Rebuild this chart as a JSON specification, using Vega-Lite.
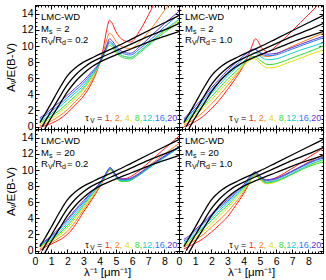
{
"$schema":"https://vega.github.io/schema/vega-lite/v6.json",
"padding":{"left":4,"top":0,"right":2,"bottom":0},
"background":"white",
"config":{
 "view":{"stroke":"black","strokeWidth":1},
 "font":"Liberation Sans",
 "axis":{"domainColor":"black","tickColor":"black","labelColor":"black","titleColor":"black","labelFont":"Liberation Sans","titleFont":"Liberation Sans","labelFontSize":10.5,"titleFontSize":11.5,"titleFontWeight":"normal","grid":false,"labelFlush":false,"labelOverlap":false,"tickWidth":1,"domainWidth":1},
 "text":{"font":"Liberation Sans","fontSize":9.5,"align":"left","baseline":"alphabetic","color":"black"}
},
"datasets":{
"black":[
{"k":"a","x":0.3,"y":0.5},{"k":"a","x":0.6,"y":1.5},{"k":"a","x":1,"y":2.9},{"k":"a","x":1.5,"y":4.7},{"k":"a","x":2,"y":6.3},{"k":"a","x":2.5,"y":7.3},{"k":"a","x":3,"y":8},{"k":"a","x":3.5,"y":8.5},{"k":"a","x":4,"y":9},{"k":"a","x":5,"y":9.9},{"k":"a","x":6,"y":10.9},{"k":"a","x":7,"y":11.9},{"k":"a","x":8,"y":12.9},{"k":"a","x":8.9,"y":13.8},
{"k":"b","x":0.45,"y":0},{"k":"b","x":0.7,"y":0.9},{"k":"b","x":1,"y":1.9},{"k":"b","x":1.5,"y":3.6},{"k":"b","x":2,"y":5.2},{"k":"b","x":2.5,"y":6.4},{"k":"b","x":3,"y":7.3},{"k":"b","x":3.5,"y":8},{"k":"b","x":4,"y":8.5},{"k":"b","x":5,"y":9.4},{"k":"b","x":6,"y":10.3},{"k":"b","x":7,"y":11.2},{"k":"b","x":8,"y":12},{"k":"b","x":8.9,"y":12.8},
{"k":"c","x":0.6,"y":-0.3},{"k":"c","x":0.8,"y":0.4},{"k":"c","x":1,"y":1.1},{"k":"c","x":1.5,"y":2.7},{"k":"c","x":2,"y":4.3},{"k":"c","x":2.5,"y":5.6},{"k":"c","x":3,"y":6.6},{"k":"c","x":3.5,"y":7.4},{"k":"c","x":4,"y":8},{"k":"c","x":5,"y":8.9},{"k":"c","x":6,"y":9.7},{"k":"c","x":7,"y":10.5},{"k":"c","x":8,"y":11.2},{"k":"c","x":8.9,"y":11.8}
],
"TL":[
{"t":1,"x":0.3,"y":-0.1},{"t":1,"x":0.6,"y":0.1},{"t":1,"x":1,"y":0.4},{"t":1,"x":1.5,"y":0.9},{"t":1,"x":2,"y":1.7},{"t":1,"x":2.5,"y":2.7},{"t":1,"x":3,"y":3.8},{"t":1,"x":3.5,"y":5.4},{"t":1,"x":3.9,"y":7.3},{"t":1,"x":4.2,"y":9.5},{"t":1,"x":4.45,"y":12.2},{"t":1,"x":4.6,"y":13.2},{"t":1,"x":4.75,"y":12.9},{"t":1,"x":5,"y":11.8},{"t":1,"x":5.4,"y":10.8},{"t":1,"x":5.9,"y":10.5},{"t":1,"x":6.5,"y":12},{"t":1,"x":7.2,"y":14.6},{"t":1,"x":8,"y":17.5},{"t":1,"x":8.9,"y":20.5},
{"t":2,"x":0.3,"y":0.1},{"t":2,"x":0.6,"y":0.3},{"t":2,"x":1,"y":0.7},{"t":2,"x":1.5,"y":1.3},{"t":2,"x":2,"y":2.1},{"t":2,"x":2.5,"y":3.1},{"t":2,"x":3,"y":4.2},{"t":2,"x":3.5,"y":5.7},{"t":2,"x":3.9,"y":7.4},{"t":2,"x":4.2,"y":9.1},{"t":2,"x":4.45,"y":10.9},{"t":2,"x":4.6,"y":11.6},{"t":2,"x":4.75,"y":11.4},{"t":2,"x":5,"y":10.6},{"t":2,"x":5.4,"y":9.9},{"t":2,"x":5.9,"y":9.7},{"t":2,"x":6.5,"y":10.6},{"t":2,"x":7.2,"y":12.2},{"t":2,"x":8,"y":14.4},{"t":2,"x":8.9,"y":16.8},
{"t":4,"x":0.3,"y":0.3},{"t":4,"x":0.6,"y":0.6},{"t":4,"x":1,"y":1},{"t":4,"x":1.5,"y":1.7},{"t":4,"x":2,"y":2.6},{"t":4,"x":2.5,"y":3.5},{"t":4,"x":3,"y":4.6},{"t":4,"x":3.5,"y":6},{"t":4,"x":3.9,"y":7.4},{"t":4,"x":4.2,"y":8.7},{"t":4,"x":4.45,"y":9.9},{"t":4,"x":4.6,"y":10.4},{"t":4,"x":4.75,"y":10.2},{"t":4,"x":5,"y":9.4},{"t":4,"x":5.4,"y":8.8},{"t":4,"x":5.9,"y":8.6},{"t":4,"x":6.5,"y":9.4},{"t":4,"x":7.2,"y":10.6},{"t":4,"x":8,"y":11.9},{"t":4,"x":8.9,"y":13.1},
{"t":8,"x":0.3,"y":0.5},{"t":8,"x":0.6,"y":0.8},{"t":8,"x":1,"y":1.3},{"t":8,"x":1.5,"y":2},{"t":8,"x":2,"y":2.9},{"t":8,"x":2.5,"y":3.8},{"t":8,"x":3,"y":4.8},{"t":8,"x":3.5,"y":6.2},{"t":8,"x":3.9,"y":7.4},{"t":8,"x":4.2,"y":8.6},{"t":8,"x":4.45,"y":9.7},{"t":8,"x":4.6,"y":10.1},{"t":8,"x":4.75,"y":9.9},{"t":8,"x":5,"y":9.2},{"t":8,"x":5.4,"y":8.6},{"t":8,"x":5.9,"y":8.4},{"t":8,"x":6.5,"y":9.2},{"t":8,"x":7.2,"y":10.4},{"t":8,"x":8,"y":11.7},{"t":8,"x":8.9,"y":12.9},
{"t":12,"x":0.3,"y":0.7},{"t":12,"x":0.6,"y":1},{"t":12,"x":1,"y":1.6},{"t":12,"x":1.5,"y":2.4},{"t":12,"x":2,"y":3.3},{"t":12,"x":2.5,"y":4.2},{"t":12,"x":3,"y":5.1},{"t":12,"x":3.5,"y":6.4},{"t":12,"x":3.9,"y":7.5},{"t":12,"x":4.2,"y":8.7},{"t":12,"x":4.45,"y":9.9},{"t":12,"x":4.6,"y":10.4},{"t":12,"x":4.75,"y":10.2},{"t":12,"x":5,"y":9.5},{"t":12,"x":5.4,"y":8.8},{"t":12,"x":5.9,"y":8.6},{"t":12,"x":6.5,"y":9.4},{"t":12,"x":7.2,"y":10.6},{"t":12,"x":8,"y":12},{"t":12,"x":8.9,"y":13.3},
{"t":16,"x":0.3,"y":0.9},{"t":16,"x":0.6,"y":1.3},{"t":16,"x":1,"y":1.9},{"t":16,"x":1.5,"y":2.7},{"t":16,"x":2,"y":3.6},{"t":16,"x":2.5,"y":4.5},{"t":16,"x":3,"y":5.4},{"t":16,"x":3.5,"y":6.6},{"t":16,"x":3.9,"y":7.6},{"t":16,"x":4.2,"y":8.8},{"t":16,"x":4.45,"y":10},{"t":16,"x":4.6,"y":10.6},{"t":16,"x":4.75,"y":10.4},{"t":16,"x":5,"y":9.7},{"t":16,"x":5.4,"y":9.1},{"t":16,"x":5.9,"y":8.9},{"t":16,"x":6.5,"y":9.7},{"t":16,"x":7.2,"y":10.9},{"t":16,"x":8,"y":12.4},{"t":16,"x":8.9,"y":13.9},
{"t":20,"x":0.3,"y":1.1},{"t":20,"x":0.6,"y":1.5},{"t":20,"x":1,"y":2.2},{"t":20,"x":1.5,"y":3},{"t":20,"x":2,"y":3.9},{"t":20,"x":2.5,"y":4.8},{"t":20,"x":3,"y":5.7},{"t":20,"x":3.5,"y":6.8},{"t":20,"x":3.9,"y":7.7},{"t":20,"x":4.2,"y":8.9},{"t":20,"x":4.45,"y":10.2},{"t":20,"x":4.6,"y":10.9},{"t":20,"x":4.75,"y":10.7},{"t":20,"x":5,"y":10},{"t":20,"x":5.4,"y":9.3},{"t":20,"x":5.9,"y":9.1},{"t":20,"x":6.5,"y":10},{"t":20,"x":7.2,"y":11.3},{"t":20,"x":8,"y":12.8},{"t":20,"x":8.9,"y":14.3}
],
"TR":[
{"t":1,"x":0.3,"y":0},{"t":1,"x":0.6,"y":0.2},{"t":1,"x":1,"y":0.6},{"t":1,"x":1.5,"y":1.3},{"t":1,"x":2,"y":2.2},{"t":1,"x":2.5,"y":3.3},{"t":1,"x":3,"y":4.6},{"t":1,"x":3.5,"y":6},{"t":1,"x":4,"y":7.6},{"t":1,"x":4.3,"y":8.9},{"t":1,"x":4.55,"y":10.2},{"t":1,"x":4.7,"y":10.9},{"t":1,"x":4.85,"y":10.7},{"t":1,"x":5.1,"y":9.8},{"t":1,"x":5.5,"y":9.3},{"t":1,"x":6,"y":10},{"t":1,"x":6.7,"y":11.3},{"t":1,"x":7.5,"y":12.9},{"t":1,"x":8.3,"y":14.5},{"t":1,"x":8.9,"y":15.8},
{"t":2,"x":0.3,"y":0.2},{"t":2,"x":0.6,"y":0.5},{"t":2,"x":1,"y":1},{"t":2,"x":1.5,"y":1.8},{"t":2,"x":2,"y":2.8},{"t":2,"x":2.5,"y":3.9},{"t":2,"x":3,"y":5.1},{"t":2,"x":3.5,"y":6.3},{"t":2,"x":4,"y":7.6},{"t":2,"x":4.3,"y":8.4},{"t":2,"x":4.55,"y":9},{"t":2,"x":4.7,"y":9.2},{"t":2,"x":4.85,"y":9.1},{"t":2,"x":5.1,"y":8.8},{"t":2,"x":5.5,"y":8.7},{"t":2,"x":6,"y":9},{"t":2,"x":6.7,"y":9.7},{"t":2,"x":7.5,"y":10.4},{"t":2,"x":8.3,"y":11.1},{"t":2,"x":8.9,"y":11.6},
{"t":4,"x":0.3,"y":0.4},{"t":4,"x":0.6,"y":0.8},{"t":4,"x":1,"y":1.4},{"t":4,"x":1.5,"y":2.3},{"t":4,"x":2,"y":3.3},{"t":4,"x":2.5,"y":4.4},{"t":4,"x":3,"y":5.5},{"t":4,"x":3.5,"y":6.5},{"t":4,"x":4,"y":7.6},{"t":4,"x":4.3,"y":8.1},{"t":4,"x":4.55,"y":8.4},{"t":4,"x":4.7,"y":8.4},{"t":4,"x":4.85,"y":8.2},{"t":4,"x":5.1,"y":7.7},{"t":4,"x":5.5,"y":7.3},{"t":4,"x":6,"y":7.4},{"t":4,"x":6.7,"y":7.9},{"t":4,"x":7.5,"y":8.5},{"t":4,"x":8.3,"y":9.1},{"t":4,"x":8.9,"y":9.5},
{"t":8,"x":0.3,"y":0.5},{"t":8,"x":0.6,"y":1},{"t":8,"x":1,"y":1.7},{"t":8,"x":1.5,"y":2.6},{"t":8,"x":2,"y":3.7},{"t":8,"x":2.5,"y":4.8},{"t":8,"x":3,"y":5.9},{"t":8,"x":3.5,"y":6.8},{"t":8,"x":4,"y":7.8},{"t":8,"x":4.3,"y":8.3},{"t":8,"x":4.55,"y":8.7},{"t":8,"x":4.7,"y":8.7},{"t":8,"x":4.85,"y":8.5},{"t":8,"x":5.1,"y":8.1},{"t":8,"x":5.5,"y":7.7},{"t":8,"x":6,"y":7.8},{"t":8,"x":6.7,"y":8.3},{"t":8,"x":7.5,"y":8.9},{"t":8,"x":8.3,"y":9.5},{"t":8,"x":8.9,"y":10},
{"t":12,"x":0.3,"y":0.7},{"t":12,"x":0.6,"y":1.2},{"t":12,"x":1,"y":2},{"t":12,"x":1.5,"y":3},{"t":12,"x":2,"y":4.1},{"t":12,"x":2.5,"y":5.2},{"t":12,"x":3,"y":6.3},{"t":12,"x":3.5,"y":7.2},{"t":12,"x":4,"y":8.1},{"t":12,"x":4.3,"y":8.7},{"t":12,"x":4.55,"y":9.1},{"t":12,"x":4.7,"y":9.2},{"t":12,"x":4.85,"y":9},{"t":12,"x":5.1,"y":8.6},{"t":12,"x":5.5,"y":8.3},{"t":12,"x":6,"y":8.4},{"t":12,"x":6.7,"y":8.9},{"t":12,"x":7.5,"y":9.5},{"t":12,"x":8.3,"y":10},{"t":12,"x":8.9,"y":10.4},
{"t":16,"x":0.3,"y":0.8},{"t":16,"x":0.6,"y":1.4},{"t":16,"x":1,"y":2.2},{"t":16,"x":1.5,"y":3.3},{"t":16,"x":2,"y":4.5},{"t":16,"x":2.5,"y":5.6},{"t":16,"x":3,"y":6.7},{"t":16,"x":3.5,"y":7.6},{"t":16,"x":4,"y":8.5},{"t":16,"x":4.3,"y":9.1},{"t":16,"x":4.55,"y":9.5},{"t":16,"x":4.7,"y":9.6},{"t":16,"x":4.85,"y":9.4},{"t":16,"x":5.1,"y":9},{"t":16,"x":5.5,"y":8.8},{"t":16,"x":6,"y":8.9},{"t":16,"x":6.7,"y":9.4},{"t":16,"x":7.5,"y":10},{"t":16,"x":8.3,"y":10.6},{"t":16,"x":8.9,"y":11},
{"t":20,"x":0.3,"y":0.95},{"t":20,"x":0.6,"y":1.6},{"t":20,"x":1,"y":2.5},{"t":20,"x":1.5,"y":3.6},{"t":20,"x":2,"y":4.8},{"t":20,"x":2.5,"y":5.9},{"t":20,"x":3,"y":7},{"t":20,"x":3.5,"y":7.9},{"t":20,"x":4,"y":8.8},{"t":20,"x":4.3,"y":9.3},{"t":20,"x":4.55,"y":9.6},{"t":20,"x":4.7,"y":9.6},{"t":20,"x":4.85,"y":9.4},{"t":20,"x":5.1,"y":9.1},{"t":20,"x":5.5,"y":9},{"t":20,"x":6,"y":9.1},{"t":20,"x":6.7,"y":9.6},{"t":20,"x":7.5,"y":10.2},{"t":20,"x":8.3,"y":10.8},{"t":20,"x":8.9,"y":11.2}
],
"BL":[
{"t":1,"x":0.3,"y":0},{"t":1,"x":0.6,"y":0.4},{"t":1,"x":1,"y":0.8},{"t":1,"x":1.5,"y":1.3},{"t":1,"x":2,"y":2},{"t":1,"x":2.5,"y":3.2},{"t":1,"x":3,"y":4.8},{"t":1,"x":3.5,"y":6.3},{"t":1,"x":4,"y":7.9},{"t":1,"x":4.3,"y":9},{"t":1,"x":4.5,"y":9.8},{"t":1,"x":4.65,"y":10.1},{"t":1,"x":4.8,"y":9.8},{"t":1,"x":5,"y":9.3},{"t":1,"x":5.3,"y":8.9},{"t":1,"x":5.7,"y":9},{"t":1,"x":6.3,"y":9.7},{"t":1,"x":7,"y":10.9},{"t":1,"x":7.8,"y":12.3},{"t":1,"x":8.9,"y":14.2},
{"t":2,"x":0.3,"y":0.2},{"t":2,"x":0.6,"y":0.6},{"t":2,"x":1,"y":1},{"t":2,"x":1.5,"y":1.6},{"t":2,"x":2,"y":2.4},{"t":2,"x":2.5,"y":3.6},{"t":2,"x":3,"y":5.1},{"t":2,"x":3.5,"y":6.5},{"t":2,"x":4,"y":8},{"t":2,"x":4.3,"y":9},{"t":2,"x":4.5,"y":9.8},{"t":2,"x":4.65,"y":10.1},{"t":2,"x":4.8,"y":9.8},{"t":2,"x":5,"y":9.2},{"t":2,"x":5.3,"y":8.8},{"t":2,"x":5.7,"y":8.8},{"t":2,"x":6.3,"y":9.4},{"t":2,"x":7,"y":10.5},{"t":2,"x":7.8,"y":11.7},{"t":2,"x":8.9,"y":13.3},
{"t":4,"x":0.3,"y":0.4},{"t":4,"x":0.6,"y":0.8},{"t":4,"x":1,"y":1.2},{"t":4,"x":1.5,"y":1.9},{"t":4,"x":2,"y":2.8},{"t":4,"x":2.5,"y":4},{"t":4,"x":3,"y":5.4},{"t":4,"x":3.5,"y":6.7},{"t":4,"x":4,"y":8.1},{"t":4,"x":4.3,"y":9},{"t":4,"x":4.5,"y":9.7},{"t":4,"x":4.65,"y":10},{"t":4,"x":4.8,"y":9.7},{"t":4,"x":5,"y":9.1},{"t":4,"x":5.3,"y":8.6},{"t":4,"x":5.7,"y":8.6},{"t":4,"x":6.3,"y":9.2},{"t":4,"x":7,"y":10.2},{"t":4,"x":7.8,"y":11.4},{"t":4,"x":8.9,"y":12.9},
{"t":8,"x":0.3,"y":0.5},{"t":8,"x":0.6,"y":0.9},{"t":8,"x":1,"y":1.3},{"t":8,"x":1.5,"y":2.1},{"t":8,"x":2,"y":3.1},{"t":8,"x":2.5,"y":4.3},{"t":8,"x":3,"y":5.6},{"t":8,"x":3.5,"y":6.9},{"t":8,"x":4,"y":8.2},{"t":8,"x":4.3,"y":9.1},{"t":8,"x":4.5,"y":9.8},{"t":8,"x":4.65,"y":10.1},{"t":8,"x":4.8,"y":9.8},{"t":8,"x":5,"y":9.1},{"t":8,"x":5.3,"y":8.6},{"t":8,"x":5.7,"y":8.6},{"t":8,"x":6.3,"y":9.2},{"t":8,"x":7,"y":10.2},{"t":8,"x":7.8,"y":11.3},{"t":8,"x":8.9,"y":12.8},
{"t":12,"x":0.3,"y":0.6},{"t":12,"x":0.6,"y":1},{"t":12,"x":1,"y":1.5},{"t":12,"x":1.5,"y":2.3},{"t":12,"x":2,"y":3.4},{"t":12,"x":2.5,"y":4.6},{"t":12,"x":3,"y":5.8},{"t":12,"x":3.5,"y":7},{"t":12,"x":4,"y":8.2},{"t":12,"x":4.3,"y":9.1},{"t":12,"x":4.5,"y":9.9},{"t":12,"x":4.65,"y":10.2},{"t":12,"x":4.8,"y":9.9},{"t":12,"x":5,"y":9.2},{"t":12,"x":5.3,"y":8.7},{"t":12,"x":5.7,"y":8.7},{"t":12,"x":6.3,"y":9.2},{"t":12,"x":7,"y":10.2},{"t":12,"x":7.8,"y":11.3},{"t":12,"x":8.9,"y":12.8},
{"t":16,"x":0.3,"y":0.7},{"t":16,"x":0.6,"y":1.1},{"t":16,"x":1,"y":1.7},{"t":16,"x":1.5,"y":2.6},{"t":16,"x":2,"y":3.7},{"t":16,"x":2.5,"y":4.9},{"t":16,"x":3,"y":6},{"t":16,"x":3.5,"y":7.2},{"t":16,"x":4,"y":8.3},{"t":16,"x":4.3,"y":9.2},{"t":16,"x":4.5,"y":10},{"t":16,"x":4.65,"y":10.3},{"t":16,"x":4.8,"y":10},{"t":16,"x":5,"y":9.3},{"t":16,"x":5.3,"y":8.8},{"t":16,"x":5.7,"y":8.8},{"t":16,"x":6.3,"y":9.3},{"t":16,"x":7,"y":10.3},{"t":16,"x":7.8,"y":11.4},{"t":16,"x":8.9,"y":12.8},
{"t":20,"x":0.3,"y":0.8},{"t":20,"x":0.6,"y":1.2},{"t":20,"x":1,"y":1.8},{"t":20,"x":1.5,"y":2.8},{"t":20,"x":2,"y":3.9},{"t":20,"x":2.5,"y":5.1},{"t":20,"x":3,"y":6.2},{"t":20,"x":3.5,"y":7.3},{"t":20,"x":4,"y":8.4},{"t":20,"x":4.3,"y":9.3},{"t":20,"x":4.5,"y":10},{"t":20,"x":4.65,"y":10.3},{"t":20,"x":4.8,"y":10},{"t":20,"x":5,"y":9.4},{"t":20,"x":5.3,"y":8.9},{"t":20,"x":5.7,"y":8.9},{"t":20,"x":6.3,"y":9.4},{"t":20,"x":7,"y":10.4},{"t":20,"x":7.8,"y":11.5},{"t":20,"x":8.9,"y":12.9}
],
"BR":[
{"t":1,"x":0.3,"y":0.2},{"t":1,"x":0.6,"y":0.5},{"t":1,"x":1,"y":0.9},{"t":1,"x":1.5,"y":1.5},{"t":1,"x":2,"y":2.3},{"t":1,"x":2.5,"y":3.2},{"t":1,"x":3,"y":4.2},{"t":1,"x":3.5,"y":5.6},{"t":1,"x":4,"y":7.1},{"t":1,"x":4.3,"y":8.2},{"t":1,"x":4.55,"y":9.2},{"t":1,"x":4.7,"y":9.6},{"t":1,"x":4.85,"y":9.4},{"t":1,"x":5.1,"y":8.9},{"t":1,"x":5.4,"y":8.7},{"t":1,"x":5.8,"y":8.9},{"t":1,"x":6.5,"y":9.6},{"t":1,"x":7.3,"y":10.6},{"t":1,"x":8.1,"y":11.7},{"t":1,"x":8.9,"y":12.7},
{"t":2,"x":0.3,"y":0.4},{"t":2,"x":0.6,"y":0.8},{"t":2,"x":1,"y":1.3},{"t":2,"x":1.5,"y":2},{"t":2,"x":2,"y":2.9},{"t":2,"x":2.5,"y":3.8},{"t":2,"x":3,"y":4.8},{"t":2,"x":3.5,"y":6},{"t":2,"x":4,"y":7.3},{"t":2,"x":4.3,"y":8.3},{"t":2,"x":4.55,"y":9.1},{"t":2,"x":4.7,"y":9.4},{"t":2,"x":4.85,"y":9.2},{"t":2,"x":5.1,"y":8.8},{"t":2,"x":5.4,"y":8.5},{"t":2,"x":5.8,"y":8.7},{"t":2,"x":6.5,"y":9.3},{"t":2,"x":7.3,"y":10.2},{"t":2,"x":8.1,"y":11.1},{"t":2,"x":8.9,"y":11.9},
{"t":4,"x":0.3,"y":0.6},{"t":4,"x":0.6,"y":1},{"t":4,"x":1,"y":1.6},{"t":4,"x":1.5,"y":2.4},{"t":4,"x":2,"y":3.3},{"t":4,"x":2.5,"y":4.3},{"t":4,"x":3,"y":5.3},{"t":4,"x":3.5,"y":6.4},{"t":4,"x":4,"y":7.5},{"t":4,"x":4.3,"y":8.3},{"t":4,"x":4.55,"y":9},{"t":4,"x":4.7,"y":9.3},{"t":4,"x":4.85,"y":9.1},{"t":4,"x":5.1,"y":8.6},{"t":4,"x":5.4,"y":8.3},{"t":4,"x":5.8,"y":8.4},{"t":4,"x":6.5,"y":9},{"t":4,"x":7.3,"y":9.8},{"t":4,"x":8.1,"y":10.6},{"t":4,"x":8.9,"y":11.2},
{"t":8,"x":0.3,"y":0.8},{"t":8,"x":0.6,"y":1.2},{"t":8,"x":1,"y":1.9},{"t":8,"x":1.5,"y":2.8},{"t":8,"x":2,"y":3.7},{"t":8,"x":2.5,"y":4.7},{"t":8,"x":3,"y":5.6},{"t":8,"x":3.5,"y":6.7},{"t":8,"x":4,"y":7.7},{"t":8,"x":4.3,"y":8.5},{"t":8,"x":4.55,"y":9.2},{"t":8,"x":4.7,"y":9.4},{"t":8,"x":4.85,"y":9.2},{"t":8,"x":5.1,"y":8.7},{"t":8,"x":5.4,"y":8.4},{"t":8,"x":5.8,"y":8.5},{"t":8,"x":6.5,"y":9},{"t":8,"x":7.3,"y":9.8},{"t":8,"x":8.1,"y":10.5},{"t":8,"x":8.9,"y":11},
{"t":12,"x":0.3,"y":1},{"t":12,"x":0.6,"y":1.4},{"t":12,"x":1,"y":2.1},{"t":12,"x":1.5,"y":3},{"t":12,"x":2,"y":4},{"t":12,"x":2.5,"y":5},{"t":12,"x":3,"y":5.9},{"t":12,"x":3.5,"y":6.9},{"t":12,"x":4,"y":7.9},{"t":12,"x":4.3,"y":8.7},{"t":12,"x":4.55,"y":9.4},{"t":12,"x":4.7,"y":9.6},{"t":12,"x":4.85,"y":9.4},{"t":12,"x":5.1,"y":8.9},{"t":12,"x":5.4,"y":8.5},{"t":12,"x":5.8,"y":8.6},{"t":12,"x":6.5,"y":9.1},{"t":12,"x":7.3,"y":9.9},{"t":12,"x":8.1,"y":10.7},{"t":12,"x":8.9,"y":11.3},
{"t":16,"x":0.3,"y":1.2},{"t":16,"x":0.6,"y":1.6},{"t":16,"x":1,"y":2.4},{"t":16,"x":1.5,"y":3.3},{"t":16,"x":2,"y":4.3},{"t":16,"x":2.5,"y":5.3},{"t":16,"x":3,"y":6.1},{"t":16,"x":3.5,"y":7.1},{"t":16,"x":4,"y":8},{"t":16,"x":4.3,"y":8.8},{"t":16,"x":4.55,"y":9.5},{"t":16,"x":4.7,"y":9.7},{"t":16,"x":4.85,"y":9.5},{"t":16,"x":5.1,"y":9},{"t":16,"x":5.4,"y":8.7},{"t":16,"x":5.8,"y":8.8},{"t":16,"x":6.5,"y":9.3},{"t":16,"x":7.3,"y":10.1},{"t":16,"x":8.1,"y":10.9},{"t":16,"x":8.9,"y":11.5},
{"t":20,"x":0.3,"y":1.4},{"t":20,"x":0.6,"y":1.8},{"t":20,"x":1,"y":2.6},{"t":20,"x":1.5,"y":3.5},{"t":20,"x":2,"y":4.5},{"t":20,"x":2.5,"y":5.5},{"t":20,"x":3,"y":6.3},{"t":20,"x":3.5,"y":7.3},{"t":20,"x":4,"y":8.2},{"t":20,"x":4.3,"y":9},{"t":20,"x":4.55,"y":9.6},{"t":20,"x":4.7,"y":9.8},{"t":20,"x":4.85,"y":9.6},{"t":20,"x":5.1,"y":9.1},{"t":20,"x":5.4,"y":8.8},{"t":20,"x":5.8,"y":8.9},{"t":20,"x":6.5,"y":9.4},{"t":20,"x":7.3,"y":10.2},{"t":20,"x":8.1,"y":11},{"t":20,"x":8.9,"y":11.6}
]
},
"spacing":0,
"bounds":"flush",
"columns":2,
"concat":[
 {"width":144,"height":124,"resolve":{"axis":{"x":"independent","y":"independent"}},
  "layer":[
   {"data":{"name":"TL"},"mark":{"type":"line","clip":true,"strokeWidth":1,"interpolate":"monotone"},
    "encoding":{"x":{"field":"x","type":"quantitative","scale":{"domain":[0,8.9],"nice":false,"zero":false},"axis":{"orient":"bottom","values":[0,0.2,0.4,0.6,0.8,1,1.2,1.4,1.6,1.8,2,2.2,2.4,2.6,2.8,3,3.2,3.4,3.6,3.8,4,4.2,4.4,4.6,4.8,5,5.2,5.4,5.6,5.8,6,6.2,6.4,6.6,6.8,7,7.2,7.4,7.6,7.8,8,8.2,8.4,8.6,8.8],"tickSize":{"condition":{"test":"datum.value % 1 === 0","value":-4},"value":-2},"labels":false,"title":null}},
     "y":{"field":"y","type":"quantitative","scale":{"domain":[-0.3,15.1],"nice":false,"zero":false},"axis":{"orient":"left","values":[0,0.5,1,1.5,2,2.5,3,3.5,4,4.5,5,5.5,6,6.5,7,7.5,8,8.5,9,9.5,10,10.5,11,11.5,12,12.5,13,13.5,14,14.5,15],"tickSize":{"condition":{"test":"datum.value % 2 === 0","value":-4},"value":-2},"labelExpr":"datum.value % 2 === 0 ? format(datum.value,'d') : ''","labelPadding":6,"title":"Aᵥ/E(B-V)","titlePadding":5}},
     "color":{"field":"t","type":"ordinal","scale":{"domain":[1,2,4,8,12,16,20],"range":["#ff2020","#ff8020","#e0e000","#30e030","#10d0d0","#2080ff","#6030e0"]},"legend":null}}},
   {"data":{"name":"black"},"mark":{"type":"line","clip":true,"strokeWidth":1.3,"color":"black","interpolate":"monotone"},
    "encoding":{"x":{"field":"x","type":"quantitative","scale":{"domain":[0,8.9],"nice":false,"zero":false},"axis":{"orient":"top","values":[0,0.2,0.4,0.6,0.8,1,1.2,1.4,1.6,1.8,2,2.2,2.4,2.6,2.8,3,3.2,3.4,3.6,3.8,4,4.2,4.4,4.6,4.8,5,5.2,5.4,5.6,5.8,6,6.2,6.4,6.6,6.8,7,7.2,7.4,7.6,7.8,8,8.2,8.4,8.6,8.8],"tickSize":{"condition":{"test":"datum.value % 1 === 0","value":-4},"value":-2},"labels":false,"title":null}},
     "y":{"field":"y","type":"quantitative","scale":{"domain":[-0.3,15.1],"nice":false,"zero":false},"axis":{"orient":"right","values":[0,0.5,1,1.5,2,2.5,3,3.5,4,4.5,5,5.5,6,6.5,7,7.5,8,8.5,9,9.5,10,10.5,11,11.5,12,12.5,13,13.5,14,14.5,15],"tickSize":{"condition":{"test":"datum.value % 2 === 0","value":-4},"value":-2},"labels":false,"title":null}},
     "detail":{"field":"k","type":"nominal"}}},
   {"data":{"values":[{}]},
    "encoding":{"x":{"datum":0.37,"type":"quantitative","scale":{"domain":[0,8.9],"nice":false,"zero":false},"axis":null}},
    "layer":[
     {"mark":{"type":"text","text":"LMC-WD"},"encoding":{"y":{"datum":13.2,"type":"quantitative","scale":{"domain":[-0.3,15.1],"nice":false,"zero":false},"axis":null}}},
     {"encoding":{"y":{"datum":11.8,"type":"quantitative","scale":{"domain":[-0.3,15.1],"nice":false,"zero":false},"axis":null}},"layer":[
       {"mark":{"type":"text","text":"M"}},
       {"mark":{"type":"text","text":"s","dx":8,"dy":2.5,"fontSize":7}},
       {"mark":{"type":"text","text":"=  2","dx":15}}]},
     {"encoding":{"y":{"datum":10.4,"type":"quantitative","scale":{"domain":[-0.3,15.1],"nice":false,"zero":false},"axis":null}},"layer":[
       {"mark":{"type":"text","text":"R"}},
       {"mark":{"type":"text","text":"V","dx":7,"dy":2.5,"fontSize":7}},
       {"mark":{"type":"text","text":"/R","dx":11.5}},
       {"mark":{"type":"text","text":"d","dx":21,"dy":2.5,"fontSize":7}},
       {"mark":{"type":"text","text":"= 0.2","dx":26}}]}
    ]},
   {"data":{"values":[{}]},
    "encoding":{"x":{"datum":3.1,"type":"quantitative","scale":{"domain":[0,8.9],"nice":false,"zero":false},"axis":null},"y":{"datum":0.75,"type":"quantitative","scale":{"domain":[-0.3,15.1],"nice":false,"zero":false},"axis":null}},
    "layer":[
     {"mark":{"type":"text","text":"τ","fontSize":9}},
     {"mark":{"type":"text","text":"V","fontSize":6.5,"dx":5,"dy":2}},
     {"mark":{"type":"text","text":"=","fontSize":9,"dx":11.8}},
     {"mark":{"type":"text","text":"1,","fontSize":9,"dx":19.6,"color":"#ff2020"}},
     {"mark":{"type":"text","text":"2,","fontSize":9,"dx":29.6,"color":"#ff8020"}},
     {"mark":{"type":"text","text":"4,","fontSize":9,"dx":39.6,"color":"#e0e000"}},
     {"mark":{"type":"text","text":"8,","fontSize":9,"dx":49.6,"color":"#30e030"}},
     {"mark":{"type":"text","text":"12,","fontSize":9,"dx":57.1,"color":"#10d0d0"}},
     {"mark":{"type":"text","text":"16,","fontSize":9,"dx":69.6,"color":"#2080ff"}},
     {"mark":{"type":"text","text":"20","fontSize":9,"dx":82.1,"color":"#6030e0"}}
    ]}
  ]},
 {"width":144,"height":124,"resolve":{"axis":{"x":"independent","y":"independent"}},
  "layer":[
   {"data":{"name":"TR"},"mark":{"type":"line","clip":true,"strokeWidth":1,"interpolate":"monotone"},
    "encoding":{"x":{"field":"x","type":"quantitative","scale":{"domain":[0,8.9],"nice":false,"zero":false},"axis":{"orient":"bottom","values":[0,0.2,0.4,0.6,0.8,1,1.2,1.4,1.6,1.8,2,2.2,2.4,2.6,2.8,3,3.2,3.4,3.6,3.8,4,4.2,4.4,4.6,4.8,5,5.2,5.4,5.6,5.8,6,6.2,6.4,6.6,6.8,7,7.2,7.4,7.6,7.8,8,8.2,8.4,8.6,8.8],"tickSize":{"condition":{"test":"datum.value % 1 === 0","value":-4},"value":-2},"labels":false,"title":null}},
     "y":{"field":"y","type":"quantitative","scale":{"domain":[-0.3,15.1],"nice":false,"zero":false},"axis":{"orient":"left","values":[0,0.5,1,1.5,2,2.5,3,3.5,4,4.5,5,5.5,6,6.5,7,7.5,8,8.5,9,9.5,10,10.5,11,11.5,12,12.5,13,13.5,14,14.5,15],"tickSize":{"condition":{"test":"datum.value % 2 === 0","value":-4},"value":-2},"labels":false,"title":null}},
     "color":{"field":"t","type":"ordinal","scale":{"domain":[1,2,4,8,12,16,20],"range":["#ff2020","#ff8020","#e0e000","#30e030","#10d0d0","#2080ff","#6030e0"]},"legend":null}}},
   {"data":{"name":"black"},"mark":{"type":"line","clip":true,"strokeWidth":1.3,"color":"black","interpolate":"monotone"},
    "encoding":{"x":{"field":"x","type":"quantitative","scale":{"domain":[0,8.9],"nice":false,"zero":false},"axis":{"orient":"top","values":[0,0.2,0.4,0.6,0.8,1,1.2,1.4,1.6,1.8,2,2.2,2.4,2.6,2.8,3,3.2,3.4,3.6,3.8,4,4.2,4.4,4.6,4.8,5,5.2,5.4,5.6,5.8,6,6.2,6.4,6.6,6.8,7,7.2,7.4,7.6,7.8,8,8.2,8.4,8.6,8.8],"tickSize":{"condition":{"test":"datum.value % 1 === 0","value":-4},"value":-2},"labels":false,"title":null}},
     "y":{"field":"y","type":"quantitative","scale":{"domain":[-0.3,15.1],"nice":false,"zero":false},"axis":{"orient":"right","values":[0,0.5,1,1.5,2,2.5,3,3.5,4,4.5,5,5.5,6,6.5,7,7.5,8,8.5,9,9.5,10,10.5,11,11.5,12,12.5,13,13.5,14,14.5,15],"tickSize":{"condition":{"test":"datum.value % 2 === 0","value":-4},"value":-2},"labels":false,"title":null}},
     "detail":{"field":"k","type":"nominal"}}},
   {"data":{"values":[{}]},
    "encoding":{"x":{"datum":0.37,"type":"quantitative","scale":{"domain":[0,8.9],"nice":false,"zero":false},"axis":null}},
    "layer":[
     {"mark":{"type":"text","text":"LMC-WD"},"encoding":{"y":{"datum":13.2,"type":"quantitative","scale":{"domain":[-0.3,15.1],"nice":false,"zero":false},"axis":null}}},
     {"encoding":{"y":{"datum":11.8,"type":"quantitative","scale":{"domain":[-0.3,15.1],"nice":false,"zero":false},"axis":null}},"layer":[
       {"mark":{"type":"text","text":"M"}},
       {"mark":{"type":"text","text":"s","dx":8,"dy":2.5,"fontSize":7}},
       {"mark":{"type":"text","text":"=  2","dx":15}}]},
     {"encoding":{"y":{"datum":10.4,"type":"quantitative","scale":{"domain":[-0.3,15.1],"nice":false,"zero":false},"axis":null}},"layer":[
       {"mark":{"type":"text","text":"R"}},
       {"mark":{"type":"text","text":"V","dx":7,"dy":2.5,"fontSize":7}},
       {"mark":{"type":"text","text":"/R","dx":11.5}},
       {"mark":{"type":"text","text":"d","dx":21,"dy":2.5,"fontSize":7}},
       {"mark":{"type":"text","text":"= 1.0","dx":26}}]}
    ]},
   {"data":{"values":[{}]},
    "encoding":{"x":{"datum":3.1,"type":"quantitative","scale":{"domain":[0,8.9],"nice":false,"zero":false},"axis":null},"y":{"datum":0.75,"type":"quantitative","scale":{"domain":[-0.3,15.1],"nice":false,"zero":false},"axis":null}},
    "layer":[
     {"mark":{"type":"text","text":"τ","fontSize":9}},
     {"mark":{"type":"text","text":"V","fontSize":6.5,"dx":5,"dy":2}},
     {"mark":{"type":"text","text":"=","fontSize":9,"dx":11.8}},
     {"mark":{"type":"text","text":"1,","fontSize":9,"dx":19.6,"color":"#ff2020"}},
     {"mark":{"type":"text","text":"2,","fontSize":9,"dx":29.6,"color":"#ff8020"}},
     {"mark":{"type":"text","text":"4,","fontSize":9,"dx":39.6,"color":"#e0e000"}},
     {"mark":{"type":"text","text":"8,","fontSize":9,"dx":49.6,"color":"#30e030"}},
     {"mark":{"type":"text","text":"12,","fontSize":9,"dx":57.1,"color":"#10d0d0"}},
     {"mark":{"type":"text","text":"16,","fontSize":9,"dx":69.6,"color":"#2080ff"}},
     {"mark":{"type":"text","text":"20","fontSize":9,"dx":82.1,"color":"#6030e0"}}
    ]}
  ]},
 {"width":144,"height":124,"resolve":{"axis":{"x":"independent","y":"independent"}},
  "layer":[
   {"data":{"name":"BL"},"mark":{"type":"line","clip":true,"strokeWidth":1,"interpolate":"monotone"},
    "encoding":{"x":{"field":"x","type":"quantitative","scale":{"domain":[0,8.9],"nice":false,"zero":false},"axis":{"orient":"bottom","values":[0,0.2,0.4,0.6,0.8,1,1.2,1.4,1.6,1.8,2,2.2,2.4,2.6,2.8,3,3.2,3.4,3.6,3.8,4,4.2,4.4,4.6,4.8,5,5.2,5.4,5.6,5.8,6,6.2,6.4,6.6,6.8,7,7.2,7.4,7.6,7.8,8,8.2,8.4,8.6,8.8],"tickSize":{"condition":{"test":"datum.value % 1 === 0","value":-4},"value":-2},"labelExpr":"datum.value % 1 === 0 ? format(datum.value,'d') : ''","labelPadding":7,"title":"λ⁻¹ [μm⁻¹]","titlePadding":-2}},
     "y":{"field":"y","type":"quantitative","scale":{"domain":[-0.3,15.1],"nice":false,"zero":false},"axis":{"orient":"left","values":[0,0.5,1,1.5,2,2.5,3,3.5,4,4.5,5,5.5,6,6.5,7,7.5,8,8.5,9,9.5,10,10.5,11,11.5,12,12.5,13,13.5,14,14.5,15],"tickSize":{"condition":{"test":"datum.value % 2 === 0","value":-4},"value":-2},"labelExpr":"datum.value % 2 === 0 ? format(datum.value,'d') : ''","labelPadding":6,"title":"Aᵥ/E(B-V)","titlePadding":5}},
     "color":{"field":"t","type":"ordinal","scale":{"domain":[1,2,4,8,12,16,20],"range":["#ff2020","#ff8020","#e0e000","#30e030","#10d0d0","#2080ff","#6030e0"]},"legend":null}}},
   {"data":{"name":"black"},"mark":{"type":"line","clip":true,"strokeWidth":1.3,"color":"black","interpolate":"monotone"},
    "encoding":{"x":{"field":"x","type":"quantitative","scale":{"domain":[0,8.9],"nice":false,"zero":false},"axis":{"orient":"top","values":[0,0.2,0.4,0.6,0.8,1,1.2,1.4,1.6,1.8,2,2.2,2.4,2.6,2.8,3,3.2,3.4,3.6,3.8,4,4.2,4.4,4.6,4.8,5,5.2,5.4,5.6,5.8,6,6.2,6.4,6.6,6.8,7,7.2,7.4,7.6,7.8,8,8.2,8.4,8.6,8.8],"tickSize":{"condition":{"test":"datum.value % 1 === 0","value":-4},"value":-2},"labels":false,"title":null}},
     "y":{"field":"y","type":"quantitative","scale":{"domain":[-0.3,15.1],"nice":false,"zero":false},"axis":{"orient":"right","values":[0,0.5,1,1.5,2,2.5,3,3.5,4,4.5,5,5.5,6,6.5,7,7.5,8,8.5,9,9.5,10,10.5,11,11.5,12,12.5,13,13.5,14,14.5,15],"tickSize":{"condition":{"test":"datum.value % 2 === 0","value":-4},"value":-2},"labels":false,"title":null}},
     "detail":{"field":"k","type":"nominal"}}},
   {"data":{"values":[{}]},
    "encoding":{"x":{"datum":0.37,"type":"quantitative","scale":{"domain":[0,8.9],"nice":false,"zero":false},"axis":null}},
    "layer":[
     {"mark":{"type":"text","text":"LMC-WD"},"encoding":{"y":{"datum":13.2,"type":"quantitative","scale":{"domain":[-0.3,15.1],"nice":false,"zero":false},"axis":null}}},
     {"encoding":{"y":{"datum":11.8,"type":"quantitative","scale":{"domain":[-0.3,15.1],"nice":false,"zero":false},"axis":null}},"layer":[
       {"mark":{"type":"text","text":"M"}},
       {"mark":{"type":"text","text":"s","dx":8,"dy":2.5,"fontSize":7}},
       {"mark":{"type":"text","text":"= 20","dx":15}}]},
     {"encoding":{"y":{"datum":10.4,"type":"quantitative","scale":{"domain":[-0.3,15.1],"nice":false,"zero":false},"axis":null}},"layer":[
       {"mark":{"type":"text","text":"R"}},
       {"mark":{"type":"text","text":"V","dx":7,"dy":2.5,"fontSize":7}},
       {"mark":{"type":"text","text":"/R","dx":11.5}},
       {"mark":{"type":"text","text":"d","dx":21,"dy":2.5,"fontSize":7}},
       {"mark":{"type":"text","text":"= 0.2","dx":26}}]}
    ]},
   {"data":{"values":[{}]},
    "encoding":{"x":{"datum":3.1,"type":"quantitative","scale":{"domain":[0,8.9],"nice":false,"zero":false},"axis":null},"y":{"datum":0.3,"type":"quantitative","scale":{"domain":[-0.3,15.1],"nice":false,"zero":false},"axis":null}},
    "layer":[
     {"mark":{"type":"text","text":"τ","fontSize":9}},
     {"mark":{"type":"text","text":"V","fontSize":6.5,"dx":5,"dy":2}},
     {"mark":{"type":"text","text":"=","fontSize":9,"dx":11.8}},
     {"mark":{"type":"text","text":"1,","fontSize":9,"dx":19.6,"color":"#ff2020"}},
     {"mark":{"type":"text","text":"2,","fontSize":9,"dx":29.6,"color":"#ff8020"}},
     {"mark":{"type":"text","text":"4,","fontSize":9,"dx":39.6,"color":"#e0e000"}},
     {"mark":{"type":"text","text":"8,","fontSize":9,"dx":49.6,"color":"#30e030"}},
     {"mark":{"type":"text","text":"12,","fontSize":9,"dx":57.1,"color":"#10d0d0"}},
     {"mark":{"type":"text","text":"16,","fontSize":9,"dx":69.6,"color":"#2080ff"}},
     {"mark":{"type":"text","text":"20","fontSize":9,"dx":82.1,"color":"#6030e0"}}
    ]}
  ]},
 {"width":144,"height":124,"resolve":{"axis":{"x":"independent","y":"independent"}},
  "layer":[
   {"data":{"name":"BR"},"mark":{"type":"line","clip":true,"strokeWidth":1,"interpolate":"monotone"},
    "encoding":{"x":{"field":"x","type":"quantitative","scale":{"domain":[0,8.9],"nice":false,"zero":false},"axis":{"orient":"bottom","values":[0,0.2,0.4,0.6,0.8,1,1.2,1.4,1.6,1.8,2,2.2,2.4,2.6,2.8,3,3.2,3.4,3.6,3.8,4,4.2,4.4,4.6,4.8,5,5.2,5.4,5.6,5.8,6,6.2,6.4,6.6,6.8,7,7.2,7.4,7.6,7.8,8,8.2,8.4,8.6,8.8],"tickSize":{"condition":{"test":"datum.value % 1 === 0","value":-4},"value":-2},"labelExpr":"datum.value % 1 === 0 ? format(datum.value,'d') : ''","labelPadding":7,"title":"λ⁻¹ [μm⁻¹]","titlePadding":-2}},
     "y":{"field":"y","type":"quantitative","scale":{"domain":[-0.3,15.1],"nice":false,"zero":false},"axis":{"orient":"left","values":[0,0.5,1,1.5,2,2.5,3,3.5,4,4.5,5,5.5,6,6.5,7,7.5,8,8.5,9,9.5,10,10.5,11,11.5,12,12.5,13,13.5,14,14.5,15],"tickSize":{"condition":{"test":"datum.value % 2 === 0","value":-4},"value":-2},"labels":false,"title":null}},
     "color":{"field":"t","type":"ordinal","scale":{"domain":[1,2,4,8,12,16,20],"range":["#ff2020","#ff8020","#e0e000","#30e030","#10d0d0","#2080ff","#6030e0"]},"legend":null}}},
   {"data":{"name":"black"},"mark":{"type":"line","clip":true,"strokeWidth":1.3,"color":"black","interpolate":"monotone"},
    "encoding":{"x":{"field":"x","type":"quantitative","scale":{"domain":[0,8.9],"nice":false,"zero":false},"axis":{"orient":"top","values":[0,0.2,0.4,0.6,0.8,1,1.2,1.4,1.6,1.8,2,2.2,2.4,2.6,2.8,3,3.2,3.4,3.6,3.8,4,4.2,4.4,4.6,4.8,5,5.2,5.4,5.6,5.8,6,6.2,6.4,6.6,6.8,7,7.2,7.4,7.6,7.8,8,8.2,8.4,8.6,8.8],"tickSize":{"condition":{"test":"datum.value % 1 === 0","value":-4},"value":-2},"labels":false,"title":null}},
     "y":{"field":"y","type":"quantitative","scale":{"domain":[-0.3,15.1],"nice":false,"zero":false},"axis":{"orient":"right","values":[0,0.5,1,1.5,2,2.5,3,3.5,4,4.5,5,5.5,6,6.5,7,7.5,8,8.5,9,9.5,10,10.5,11,11.5,12,12.5,13,13.5,14,14.5,15],"tickSize":{"condition":{"test":"datum.value % 2 === 0","value":-4},"value":-2},"labels":false,"title":null}},
     "detail":{"field":"k","type":"nominal"}}},
   {"data":{"values":[{}]},
    "encoding":{"x":{"datum":0.37,"type":"quantitative","scale":{"domain":[0,8.9],"nice":false,"zero":false},"axis":null}},
    "layer":[
     {"mark":{"type":"text","text":"LMC-WD"},"encoding":{"y":{"datum":13.2,"type":"quantitative","scale":{"domain":[-0.3,15.1],"nice":false,"zero":false},"axis":null}}},
     {"encoding":{"y":{"datum":11.8,"type":"quantitative","scale":{"domain":[-0.3,15.1],"nice":false,"zero":false},"axis":null}},"layer":[
       {"mark":{"type":"text","text":"M"}},
       {"mark":{"type":"text","text":"s","dx":8,"dy":2.5,"fontSize":7}},
       {"mark":{"type":"text","text":"= 20","dx":15}}]},
     {"encoding":{"y":{"datum":10.4,"type":"quantitative","scale":{"domain":[-0.3,15.1],"nice":false,"zero":false},"axis":null}},"layer":[
       {"mark":{"type":"text","text":"R"}},
       {"mark":{"type":"text","text":"V","dx":7,"dy":2.5,"fontSize":7}},
       {"mark":{"type":"text","text":"/R","dx":11.5}},
       {"mark":{"type":"text","text":"d","dx":21,"dy":2.5,"fontSize":7}},
       {"mark":{"type":"text","text":"= 1.0","dx":26}}]}
    ]},
   {"data":{"values":[{}]},
    "encoding":{"x":{"datum":3.1,"type":"quantitative","scale":{"domain":[0,8.9],"nice":false,"zero":false},"axis":null},"y":{"datum":0.3,"type":"quantitative","scale":{"domain":[-0.3,15.1],"nice":false,"zero":false},"axis":null}},
    "layer":[
     {"mark":{"type":"text","text":"τ","fontSize":9}},
     {"mark":{"type":"text","text":"V","fontSize":6.5,"dx":5,"dy":2}},
     {"mark":{"type":"text","text":"=","fontSize":9,"dx":11.8}},
     {"mark":{"type":"text","text":"1,","fontSize":9,"dx":19.6,"color":"#ff2020"}},
     {"mark":{"type":"text","text":"2,","fontSize":9,"dx":29.6,"color":"#ff8020"}},
     {"mark":{"type":"text","text":"4,","fontSize":9,"dx":39.6,"color":"#e0e000"}},
     {"mark":{"type":"text","text":"8,","fontSize":9,"dx":49.6,"color":"#30e030"}},
     {"mark":{"type":"text","text":"12,","fontSize":9,"dx":57.1,"color":"#10d0d0"}},
     {"mark":{"type":"text","text":"16,","fontSize":9,"dx":69.6,"color":"#2080ff"}},
     {"mark":{"type":"text","text":"20","fontSize":9,"dx":82.1,"color":"#6030e0"}}
    ]}
  ]}
]
}
